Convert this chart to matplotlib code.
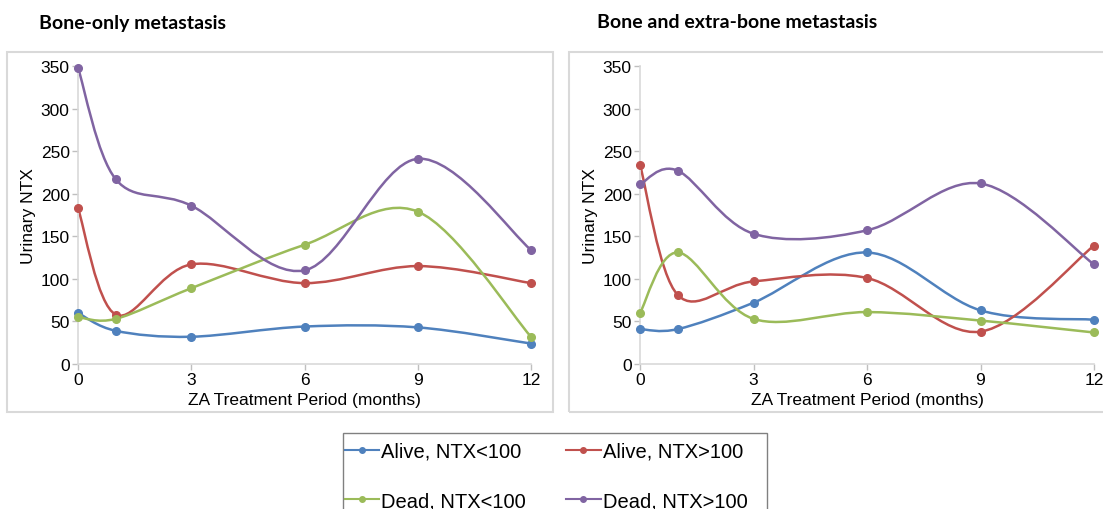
import numpy as np
import matplotlib
matplotlib.use("Agg")
import matplotlib.pyplot as plt
from matplotlib.path import Path
from matplotlib.patches import PathPatch, Rectangle
from matplotlib.lines import Line2D

plt.rcParams['font.family'] = ['Liberation Sans', 'DejaVu Sans']

months = [0, 1, 3, 6, 9, 12]
series_names = ["Alive, NTX<100", "Alive, NTX>100", "Dead, NTX<100", "Dead, NTX>100"]
colors = ["#4F81BD", "#C0504D", "#9BBB59", "#8064A2"]

# bone-only metastasis
bone_alive_low = [60, 39, 32, 44, 43, 24]
bone_alive_high = [183, 58, 117, 95, 115, 95]
bone_dead_low = [55, 53, 89, 140, 179, 32]
bone_dead_high = [348, 217, 186, 110, 241, 134]

# bone and extra-bone metastasis
extra_alive_low = [41, 41, 72, 131, 63, 52]
extra_alive_high = [234, 81, 97, 101, 38, 139]
extra_dead_low = [60, 131, 53, 61, 51, 37]
extra_dead_high = [211, 227, 153, 157, 212, 117]

titles = ["Bone-only metastasis", "Bone and extra-bone metastasis"]

W, H = 1103, 510


def smooth_path(xs, ys):
    # excel-like smoothed line: bezier segments with catmull-rom tangents
    p = np.column_stack([xs, ys]).astype(float)
    n = len(p)
    verts = [p[0]]
    codes = [Path.MOVETO]
    for i in range(n - 1):
        p0 = p[i - 1] if i > 0 else p[i]
        p3 = p[i + 2] if i + 2 < n else p[i + 1]
        c1 = p[i] + (p[i + 1] - p0) / 6.0
        c2 = p[i + 1] - (p3 - p[i]) / 6.0
        verts += [c1, c2, p[i + 1]]
        codes += [Path.CURVE4] * 3
    return Path(verts, codes)


def draw_panel(ax, data):
    for vals, c in zip(data, colors):
        ax.add_patch(PathPatch(smooth_path(months, vals), facecolor="none",
                               edgecolor=c, lw=1.8, clip_on=False))
        ax.plot(months, vals, "o", color=c, ms=5.5, clip_on=False, zorder=3)
    ax.set_xlim(0, 12)
    ax.set_ylim(0, 350)
    ax.set_xticks([0, 3, 6, 9, 12])
    ax.set_yticks(range(0, 351, 50))
    for s in ["top", "right"]:
        ax.spines[s].set_visible(False)
    for s in ["left", "bottom"]:
        ax.spines[s].set_color("#d9d9d9")
        ax.spines[s].set_linewidth(1.2)
    ax.tick_params(colors="#bfbfbf", labelcolor="black", labelsize=12.5,
                   length=4, width=1, pad=2)
    ax.set_xlabel("ZA Treatment Period (months)", fontsize=12.5, labelpad=3.5)
    ax.set_ylabel("Urinary NTX", fontsize=12.5, labelpad=3)


fig = plt.figure(figsize=(W / 100, H / 100), dpi=100)

# panel frames
for x0, x1 in [(7, 553), (569, 1110)]:
    fig.add_artist(Rectangle((x0 / W, 1 - 413 / H), (x1 - x0) / W, (413 - 53) / H,
                             transform=fig.transFigure, facecolor="none",
                             edgecolor="#d9d9d9", lw=1.5))

ax1 = fig.add_axes([78 / W, 1 - 365 / H, (531 - 78) / W, (365 - 67) / H])
ax2 = fig.add_axes([640 / W, 1 - 365 / H, (1094 - 640) / W, (365 - 67) / H])

draw_panel(ax1, [bone_alive_low, bone_alive_high, bone_dead_low, bone_dead_high])
draw_panel(ax2, [extra_alive_low, extra_alive_high, extra_dead_low, extra_dead_high])

fig.text(39 / W, 1 - 23 / H, titles[0], family="Lato", weight="bold",
         fontsize=14, va="center", ha="left")
fig.text(597 / W, 1 - 23 / H, titles[1], family="Lato", weight="bold",
         fontsize=14, va="center", ha="left")

# legend frame, cut by the bottom edge like the source
fig.add_artist(Rectangle((343 / W, -0.05), (767 - 343) / W, 1 - 434 / H + 0.05,
                         transform=fig.transFigure, facecolor="none",
                         edgecolor="#808080", lw=1.0))
handles = [Line2D([], [], color=c, marker="o", ms=4, lw=1.5) for c in colors]
order = [0, 2, 1, 3]
fig.legend([handles[i] for i in order], [series_names[i] for i in order],
           ncol=2, loc="upper left", bbox_to_anchor=(345 / W, 1 - 443 / H),
           fontsize=14.5, frameon=False, handlelength=1.7, handletextpad=0.1,
           columnspacing=2.0, labelspacing=1.5, borderpad=0, borderaxespad=0)

fig.savefig("out.png", dpi=100)
